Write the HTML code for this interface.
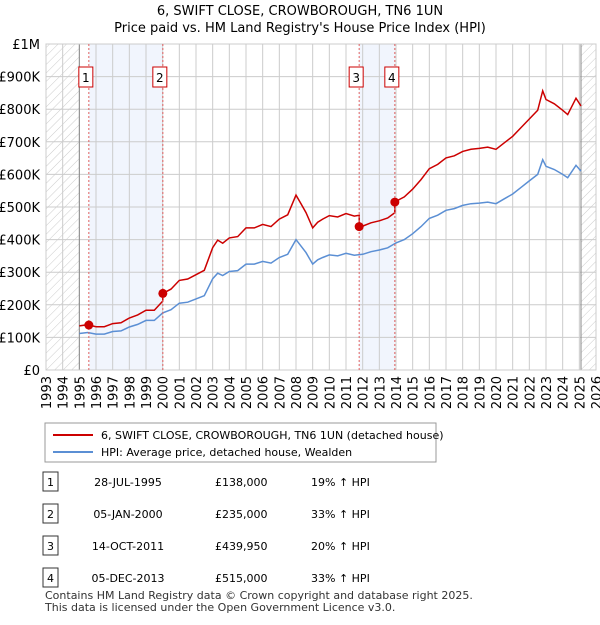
<!DOCTYPE html>
<html><head><meta charset="utf-8"><style>
body{margin:0;background:#fff;font-family:"Liberation Sans","DejaVu Sans",sans-serif;}
svg text{font-family:"DejaVu Sans","Liberation Sans",sans-serif;}
</style></head><body>
<svg id="c" width="600" height="620" xmlns="http://www.w3.org/2000/svg">
<defs><pattern id="h" width="6" height="6" patternUnits="userSpaceOnUse" patternTransform="rotate(45)"><line x1="0" y1="0" x2="0" y2="6" stroke="#ccc" stroke-width="1"/></pattern></defs>
<text x="300" y="15" text-anchor="middle" font-size="13">6, SWIFT CLOSE, CROWBOROUGH, TN6 1UN</text>
<text x="300" y="32" text-anchor="middle" font-size="13">Price paid vs. HM Land Registry's House Price Index (HPI)</text>
<g id="plot"></g>
<g>
<rect x="45" y="423" width="391" height="39" fill="#fff" stroke="#999"/>
<line x1="53" y1="435" x2="93" y2="435" stroke="#cc0000" stroke-width="2"/>
<text x="101" y="439" font-size="11">6, SWIFT CLOSE, CROWBOROUGH, TN6 1UN (detached house)</text>
<line x1="53" y1="452" x2="93" y2="452" stroke="#5b8fd4" stroke-width="2"/>
<text x="101" y="456" font-size="11">HPI: Average price, detached house, Wealden</text>
</g>
<g id="tbl" font-size="11"></g>
<text x="45" y="599" font-size="11" fill="#333">Contains HM Land Registry data © Crown copyright and database right 2025.</text>
<text x="45" y="611" font-size="11" fill="#333">This data is licensed under the Open Government Licence v3.0.</text>
</svg>
<script>
const hpiYears=[1995,1995.5,1996,1996.5,1997,1997.5,1998,1998.5,1999,1999.5,2000,2000.5,2001,2001.5,2002,2002.5,2003,2003.3,2003.6,2004,2004.5,2005,2005.5,2006,2006.5,2007,2007.5,2008,2008.3,2008.6,2009,2009.3,2009.6,2010,2010.5,2011,2011.5,2012,2012.5,2013,2013.5,2014,2014.5,2015,2015.5,2016,2016.5,2017,2017.5,2018,2018.5,2019,2019.5,2020,2020.5,2021,2021.5,2022,2022.5,2022.8,2023,2023.5,2024,2024.3,2024.8,2025.1];
const hpiValues=[112,115,110,110,118,120,132,140,152,152,175,185,205,208,218,228,280,297,290,302,305,325,325,333,328,345,355,400,380,360,325,338,345,353,350,358,352,355,363,368,375,390,400,418,440,465,475,490,495,505,510,512,515,510,525,540,560,580,600,645,625,615,600,590,628,610];
const saleLabels=["1","2","3","4"];
const saleYears=[1995.57,2000.01,2011.79,2013.93];
const salePrices=[138000,235000,439950,515000];
const saleDates=["28-JUL-1995","05-JAN-2000","14-OCT-2011","05-DEC-2013"];
const saleText=["£138,000","£235,000","£439,950","£515,000"];
const saleHpi=["19% ↑ HPI","33% ↑ HPI","20% ↑ HPI","33% ↑ HPI"];
const yTicks=[0,100,200,300,400,500,600,700,800,900,1000];
const yTickLabels=["£0","£100K","£200K","£300K","£400K","£500K","£600K","£700K","£800K","£900K","£1M"];
const xTicks=[1993,1994,1995,1996,1997,1998,1999,2000,2001,2002,2003,2004,2005,2006,2007,2008,2009,2010,2011,2012,2013,2014,2015,2016,2017,2018,2019,2020,2021,2022,2023,2024,2025,2026];
const X0=46,X1=596,Y0=370,Y1=44;
const x=y=>X0+(y-1993)/33*(X1-X0);
const yv=k=>Y0-k/1000*(Y0-Y1);
const NS="http://www.w3.org/2000/svg";
const P=document.getElementById('plot');
function mk(t,a,p){const e=document.createElementNS(NS,t);for(const k in a)e.setAttribute(k,a[k]);(p||P).appendChild(e);return e;}
// hatch regions
let e=mk('rect',{x:X0,y:Y1,width:x(1995)-X0,height:Y0-Y1,fill:'url(#h)'});


e=mk('rect',{x:x(2025.1),y:Y1,width:X1-x(2025.1),height:Y0-Y1,fill:'url(#h)'});


// shaded periods
[[0,1],[2,3]].forEach(([a,b])=>{const r=mk('rect',{x:x(saleYears[a]),y:Y1,width:x(saleYears[b])-x(saleYears[a]),height:Y0-Y1,fill:'#eef3fc',opacity:0.8});

});
// grid
yTicks.forEach((t,i)=>{mk('line',{x1:X0,x2:X1,y1:yv(t),y2:yv(t),stroke:'#ccc'});
const l=mk('text',{x:X0-6,y:yv(t)+5,'text-anchor':'end','font-size':13});l.textContent=yTickLabels[i];

});
xTicks.forEach(t=>{mk('line',{x1:x(t),x2:x(t),y1:Y1,y2:Y0,stroke:'#ccc'});
const l=mk('text',{x:0,y:0,'text-anchor':'end','font-size':13,transform:`translate(${x(t)+5},${Y0+6}) rotate(-90)`});l.textContent=t;

});
mk('line',{x1:x(1995),x2:x(1995),y1:Y1,y2:Y0,stroke:'#888'});
mk('line',{x1:x(2025.1),x2:x(2025.1),y1:Y1,y2:Y0,stroke:'#888'});
mk('rect',{x:X0,y:Y1,width:X1-X0,height:Y0-Y1,fill:'none',stroke:'#ccc'});
// hpi line
let d=hpiYears.map((yr,i)=>(i?'L':'M')+x(yr).toFixed(1)+','+yv(hpiValues[i]).toFixed(1)).join('');
e=mk('path',{d:d,fill:'none',stroke:'#5b8fd4','stroke-width':1.5});


// price line: hpi scaled from latest sale
function hpiAt(yr){for(let i=1;i<hpiYears.length;i++){if(yr<=hpiYears[i]){const f=(yr-hpiYears[i-1])/(hpiYears[i]-hpiYears[i-1]);return hpiValues[i-1]+f*(hpiValues[i]-hpiValues[i-1]);}}return hpiValues[hpiValues.length-1];}
const pts=[];
let yrs=hpiYears.concat(saleYears).sort((a,b)=>a-b);
yrs.forEach(yr=>{let k=0;for(let j=0;j<saleYears.length;j++)if(yr>=saleYears[j])k=j;
const f=salePrices[k]/1000/hpiAt(saleYears[k]);
if(saleYears.includes(yr)&&saleYears.indexOf(yr)>0){const kp=saleYears.indexOf(yr)-1;pts.push([yr,hpiAt(yr)*salePrices[kp]/1000/hpiAt(saleYears[kp])]);}
pts.push([yr,hpiAt(yr)*f]);});
d=pts.map((p,i)=>(i?'L':'M')+x(p[0]).toFixed(1)+','+yv(p[1]).toFixed(1)).join('');
e=mk('path',{d:d,fill:'none',stroke:'#cc0000','stroke-width':1.5});


// sale markers
saleYears.forEach((yr,i)=>{const sx=x(yr);
mk('line',{x1:sx,x2:sx,y1:Y1,y2:Y0,stroke:'#e06060','stroke-dasharray':'2,2'});
const c=mk('circle',{cx:sx,cy:yv(salePrices[i]/1000),r:4.5,fill:'#cc0000'});


const g=mk('g',{});


mk('rect',{x:sx-10,y:67,width:14,height:20,fill:'#fff',stroke:'#cc0000'},g);
const t=mk('text',{x:sx-3,y:82,'text-anchor':'middle','font-size':12},g);t.textContent=saleLabels[i];});
// table
const T=document.getElementById('tbl');
saleLabels.forEach((l,i)=>{const ry=482+i*32;
const g=mk('g',{},T);


mk('rect',{x:43,y:ry-10,width:15,height:19,fill:'#fff',stroke:'#333'},g);
let t=mk('text',{x:50.5,y:ry+4,'text-anchor':'middle'},g);t.textContent=l;
t=mk('text',{x:128,y:ry+4,'text-anchor':'middle'},g);t.textContent=saleDates[i];
t=mk('text',{x:215,y:ry+4},g);t.textContent=saleText[i];
t=mk('text',{x:311,y:ry+4},g);t.textContent=saleHpi[i];});
</script>
</body></html>
